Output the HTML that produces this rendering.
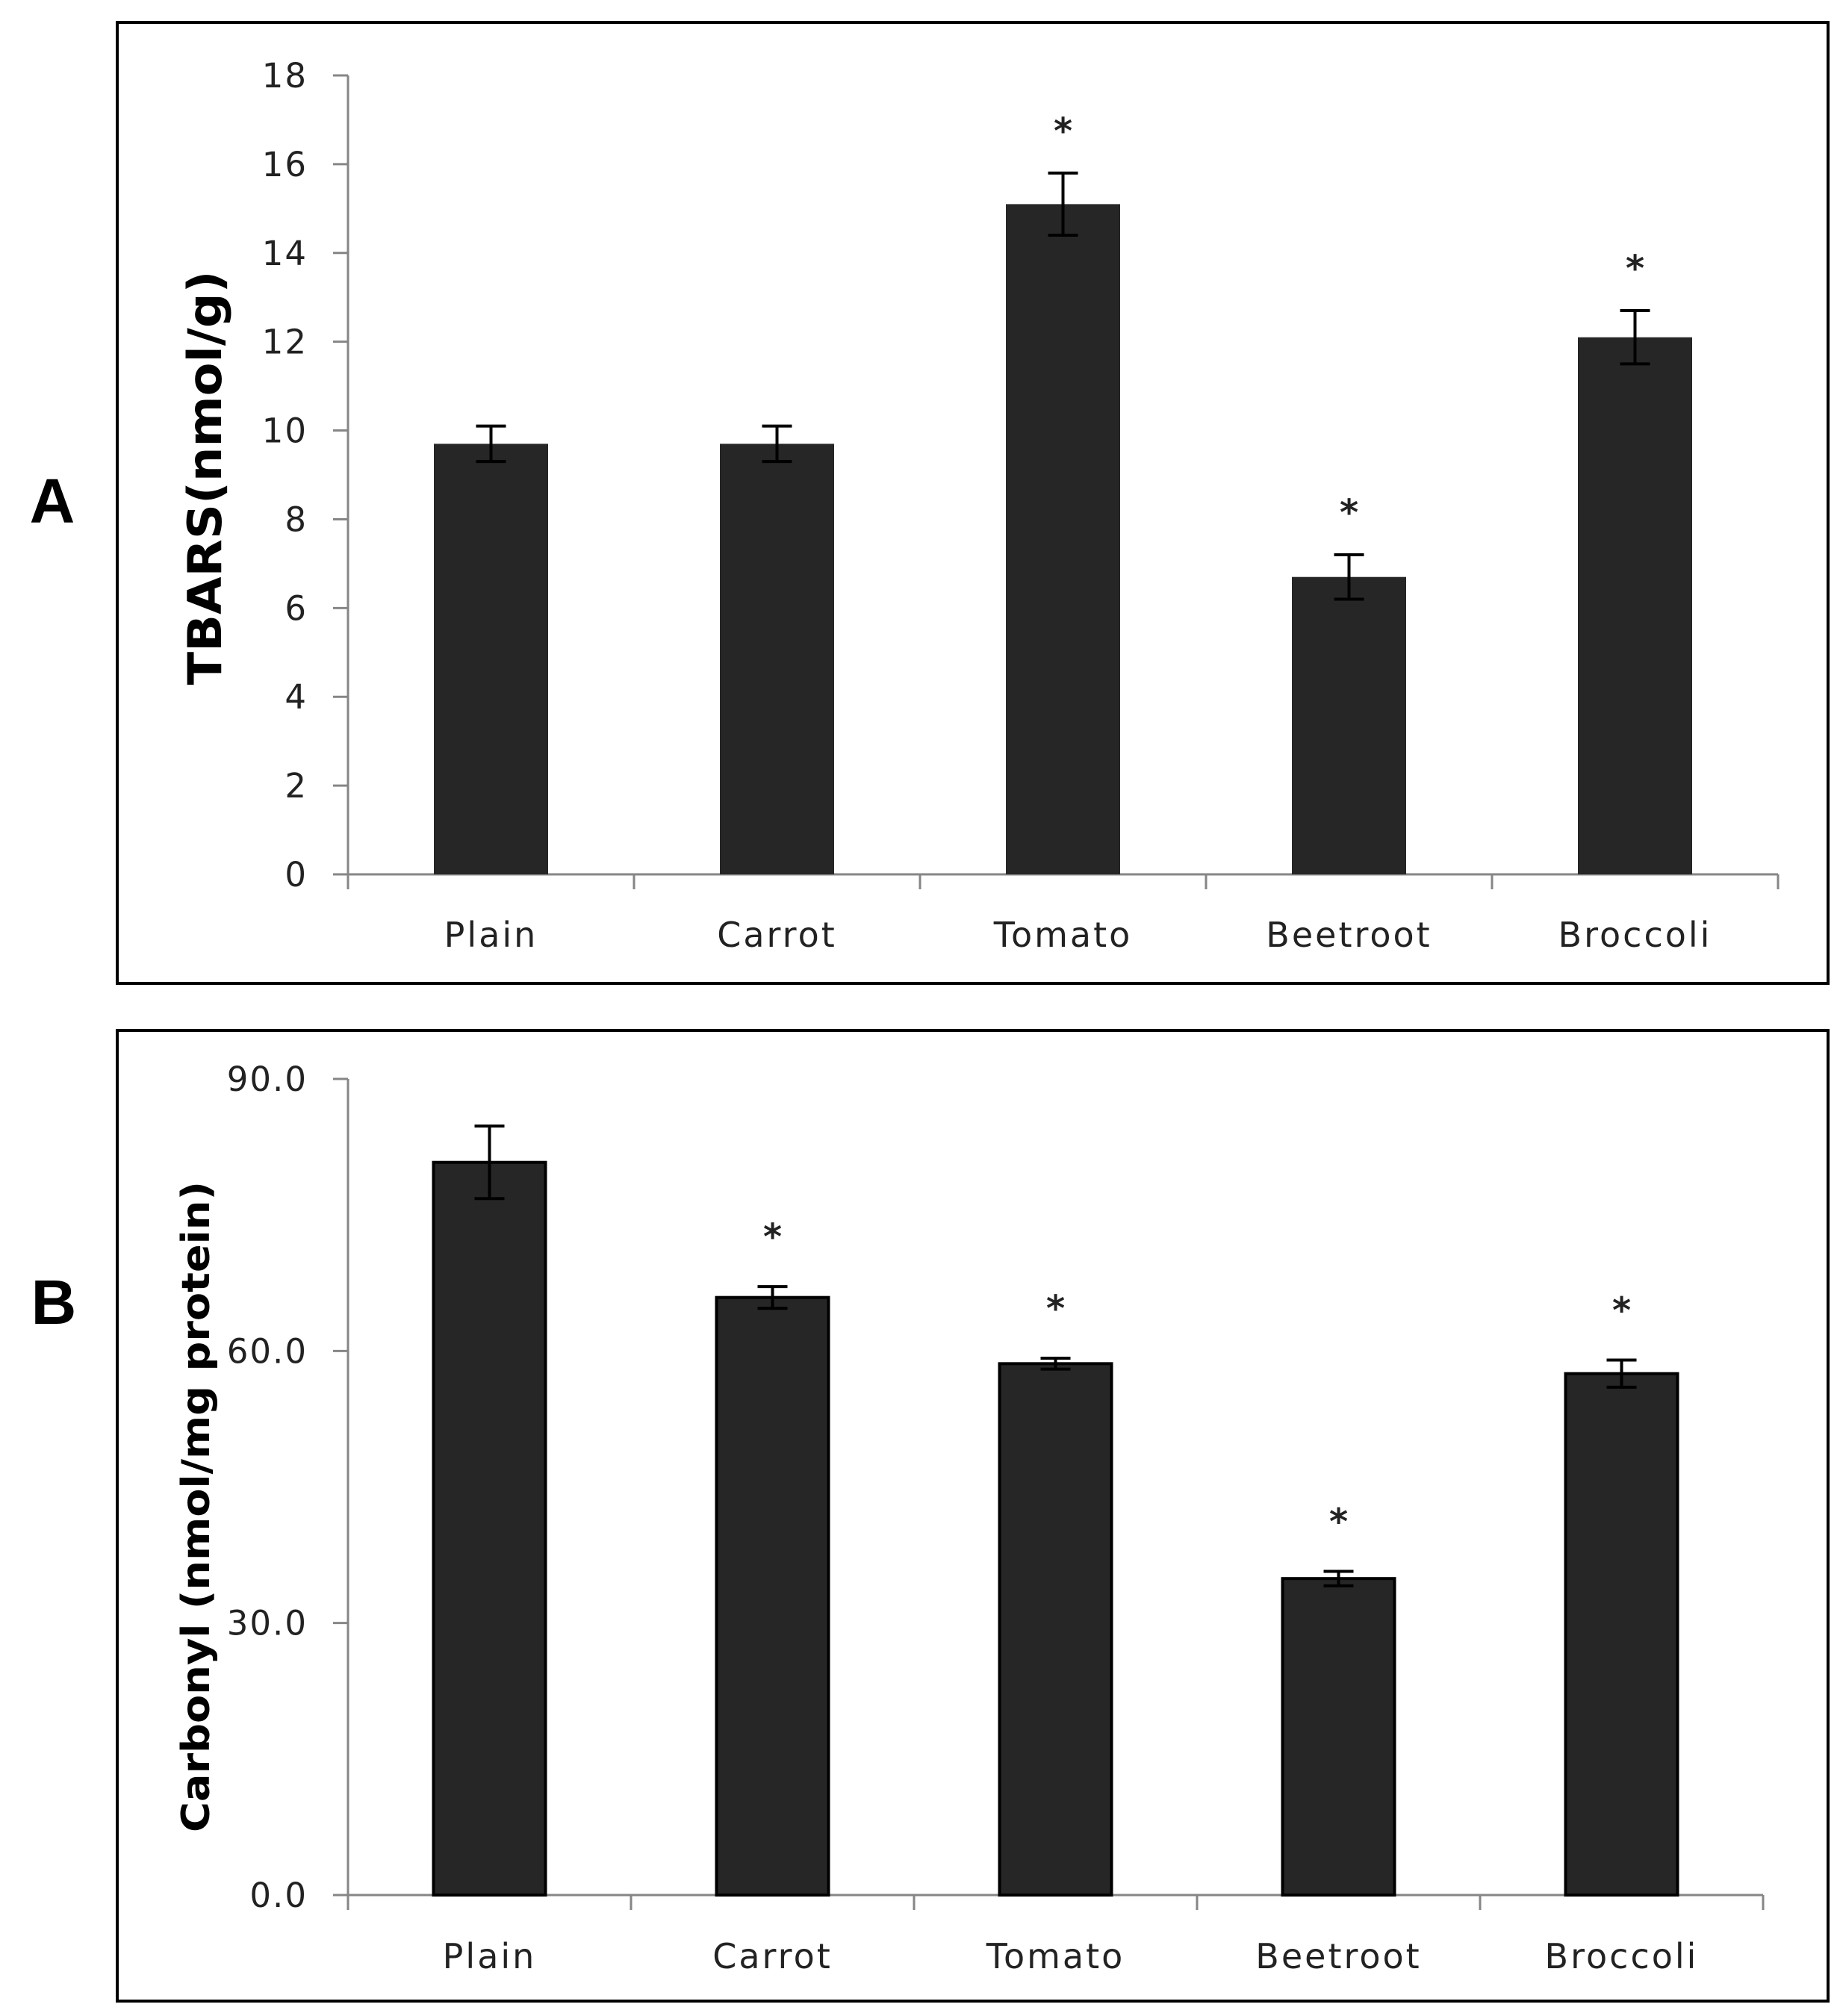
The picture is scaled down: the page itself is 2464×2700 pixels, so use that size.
<!DOCTYPE html>
<html><head><meta charset="utf-8"><style>
html,body{margin:0;padding:0;background:#fff;}
svg{display:block;font-family:"DejaVu Sans","Liberation Sans",sans-serif;}
</style></head><body>
<svg id="fig" width="2464" height="2700" viewBox="0 0 2464 2700" xmlns="http://www.w3.org/2000/svg">
<rect x="157" y="30" width="2291" height="1287" fill="none" stroke="#000" stroke-width="4"/>
<rect x="157" y="1380" width="2291" height="1300" fill="none" stroke="#000" stroke-width="4"/>
<text x="70" y="700" font-size="84" font-weight="bold" text-anchor="middle" font-family="Liberation Sans, sans-serif">A</text>
<text x="72" y="1773" font-size="84" font-weight="bold" text-anchor="middle" font-family="Liberation Sans, sans-serif">B</text>
<g id="chartA"></g>
<g id="chartB"></g>
</svg>
<script>
const categories = ["Plain","Carrot","Tomato","Beetroot","Broccoli"];
const tbarsValues = [9.7, 9.7, 15.1, 6.7, 12.1];
const tbarsErrors = [0.4, 0.4, 0.7, 0.5, 0.6];
const tbarsSig = [false, false, true, true, true];
const tbarsTicks = [0,2,4,6,8,10,12,14,16,18];
const tbarsTickLabels = ["0","2","4","6","8","10","12","14","16","18"];
const carbonylValues = [80.8, 65.9, 58.6, 34.9, 57.5];
const carbonylErrors = [4.0, 1.2, 0.6, 0.8, 1.5];
const carbonylSig = [false, true, true, true, true];
const carbonylTicks = [0,30,60,90];
const carbonylTickLabels = ["0.0","30.0","60.0","90.0"];

const NS = "http://www.w3.org/2000/svg";
function mk(parent, tag, attrs, text){
  const e = document.createElementNS(NS, tag);
  for (const k in attrs) e.setAttribute(k, attrs[k]);
  if (text !== undefined) e.textContent = text;
  parent.appendChild(e);
  return e;
}
function draw(g, cfg){
  const x0 = cfg.x0, x1 = cfg.x1, yb = cfg.yb, yt = cfg.yt, max = cfg.max;
  const n = cfg.cats.length, cw = (x1 - x0) / n;
  const yS = v => yb - (v / max) * (yb - yt);
  const xC = i => x0 + cw * (i + 0.5);
  const ya = mk(g, "line", {x1:x0, y1:yt, x2:x0, y2:yb, stroke:"#868686", "stroke-width":3});
  
  
  const xa = mk(g, "line", {x1:x0-20, y1:yb, x2:x1, y2:yb, stroke:"#868686", "stroke-width":3});
  
  
  cfg.ticks.forEach((t, i) => {
    const y = yS(t);
    const tl = mk(g, "line", {x1:x0-20, y1:y, x2:x0, y2:y, stroke:"#868686", "stroke-width":3});
    
    
    const tx = mk(g, "text", {x:x0-54, y:y+16, "font-size":45, "letter-spacing":2, "text-anchor":"end", fill:"#222"}, cfg.tickLabels[i]);
    
    
  });
  for (let i = 0; i <= n; i++) {
    const x = x0 + cw * i;
    const xt = mk(g, "line", {x1:x, y1:yb, x2:x, y2:yb+20, stroke:"#868686", "stroke-width":3});
    
    
  }
  const bw = cfg.bw;
  cfg.cats.forEach((c, i) => {
    const cx = xC(i), v = cfg.values[i], e = cfg.errors[i];
    const b = mk(g, "rect", {x:cx-bw/2, y:yS(v), width:bw, height:yb-yS(v), fill:"#262626", stroke:"#000", "stroke-width":cfg.border});
    
    
    const eg = mk(g, "path", {d:`M${cx},${yS(v+e)}V${yS(v-e)}M${cx-20},${yS(v+e)}H${cx+20}M${cx-20},${yS(v-e)}H${cx+20}`, stroke:"#000", "stroke-width":4, fill:"none"});
    
    
    const lb = mk(g, "text", {x:cx, y:cfg.labelY, "font-size":46, "letter-spacing":3, "text-anchor":"middle", fill:"#222"}, c);
    
    
    if (cfg.sig[i]) {
      const s = mk(g, "text", {x:cx, y:yS(v+e)-cfg.starGap, "font-size":48, "font-weight":"bold", "text-anchor":"middle", fill:"#222"}, "*");
      
      
    }
  });
  const t = mk(g, "text", {x:0, y:0, "font-size":cfg.titleSize, "font-weight":"bold", "text-anchor":"middle", fill:"#000",
     transform:`translate(${cfg.titleX},${cfg.titleY}) rotate(-90)`, "font-family":"DejaVu Sans, Liberation Sans, sans-serif", textLength:cfg.titleLen, lengthAdjust:"spacingAndGlyphs"}, cfg.title);
  
  
}
draw(document.getElementById("chartA"), {x0:466, x1:2381, yb:1171, yt:101, max:18, cats:categories,
  values:tbarsValues, errors:tbarsErrors, sig:tbarsSig, ticks:tbarsTicks, tickLabels:tbarsTickLabels,
  bw:153, border:0, labelY:1268, starGap:40, title:"TBARS(nmol/g)", titleX:296, titleY:640, titleSize:62, titleLen:555});
draw(document.getElementById("chartB"), {x0:466, x1:2361, yb:2538, yt:1445, max:90, cats:categories,
  values:carbonylValues, errors:carbonylErrors, sig:carbonylSig, ticks:carbonylTicks, tickLabels:carbonylTickLabels,
  bw:150, border:4, labelY:2636, starGap:50, title:"Carbonyl (nmol/mg protein)", titleX:280, titleY:2018, titleSize:52, titleLen:872});
</script>
</body></html>
